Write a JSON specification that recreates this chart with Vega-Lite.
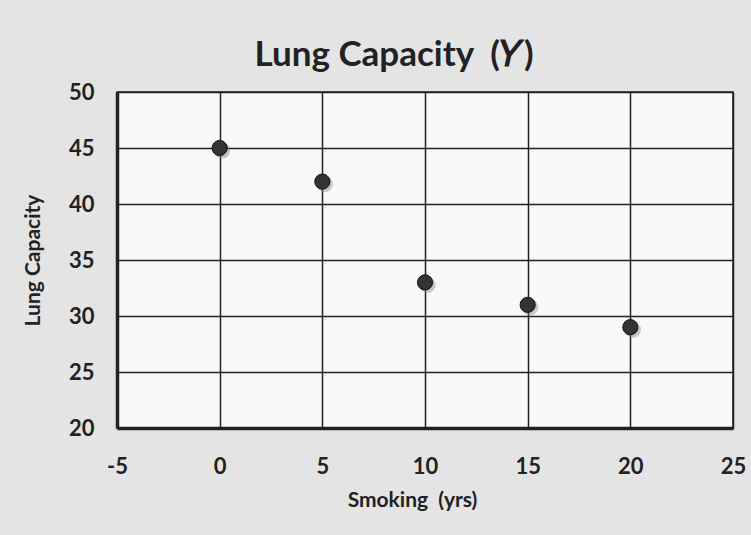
{
  "$schema": "https://vega.github.io/schema/vega-lite/v6.json",
  "width": 616,
  "height": 336,
  "autosize": {"type": "none"},
  "padding": {"left": 117, "top": 92, "right": 18, "bottom": 107},
  "background": "#e4e4e4",
  "title": {
    "text": "Lung Capacity\u00a0\u00a0(𝑌)",
    "font": "Lato",
    "fontSize": 35,
    "fontWeight": "bold",
    "color": "#222222",
    "anchor": "middle",
    "dx": -31,
    "offset": 8
  },
  "config": {
    "view": {"fill": "#f9f9f9", "stroke": "#222222", "strokeWidth": 1.5},
    "axis": {
      "labelFont": "Lato",
      "labelFontWeight": "bold",
      "labelFontSize": 22,
      "labelColor": "#222222",
      "titleFont": "Lato",
      "titleFontWeight": "bold",
      "titleFontSize": 21,
      "titleColor": "#222222",
      "grid": true,
      "gridColor": "#222222",
      "gridWidth": 1.5,
      "gridOpacity": 1,
      "ticks": false,
      "labelFlush": false,
      "domainColor": "#222222",
      "domainWidth": 3.5
    }
  },
  "data": {
    "values": [
      {"smoking": 0, "capacity": 45},
      {"smoking": 5, "capacity": 42},
      {"smoking": 10, "capacity": 33},
      {"smoking": 15, "capacity": 31},
      {"smoking": 20, "capacity": 29}
    ]
  },
  "encoding": {
    "x": {
      "field": "smoking",
      "type": "quantitative",
      "scale": {"domain": [-5, 25], "nice": false, "zero": false},
      "axis": {"values": [-5, 0, 5, 10, 15, 20, 25], "labelExpr": "replace(datum.label, '−', '-')", "labelPadding": 28, "title": "Smoking\u00a0\u00a0(yrs)", "titlePadding": 12, "titleX": 295}
    },
    "y": {
      "field": "capacity",
      "type": "quantitative",
      "scale": {"domain": [20, 50], "nice": false, "zero": false},
      "axis": {"values": [20, 25, 30, 35, 40, 45, 50], "labelPadding": 23, "title": "Lung Capacity", "titlePadding": 25}
    }
  },
  "layer": [
    {
      "mark": {"type": "point", "filled": true, "shape": "circle", "size": 260, "color": "#888888", "opacity": 0.45, "xOffset": 2.5, "yOffset": 2.5}
    },
    {
      "mark": {"type": "point", "filled": true, "shape": "circle", "size": 230, "color": "#333333", "opacity": 1, "stroke": "#111111", "strokeWidth": 1}
    }
  ]
}
